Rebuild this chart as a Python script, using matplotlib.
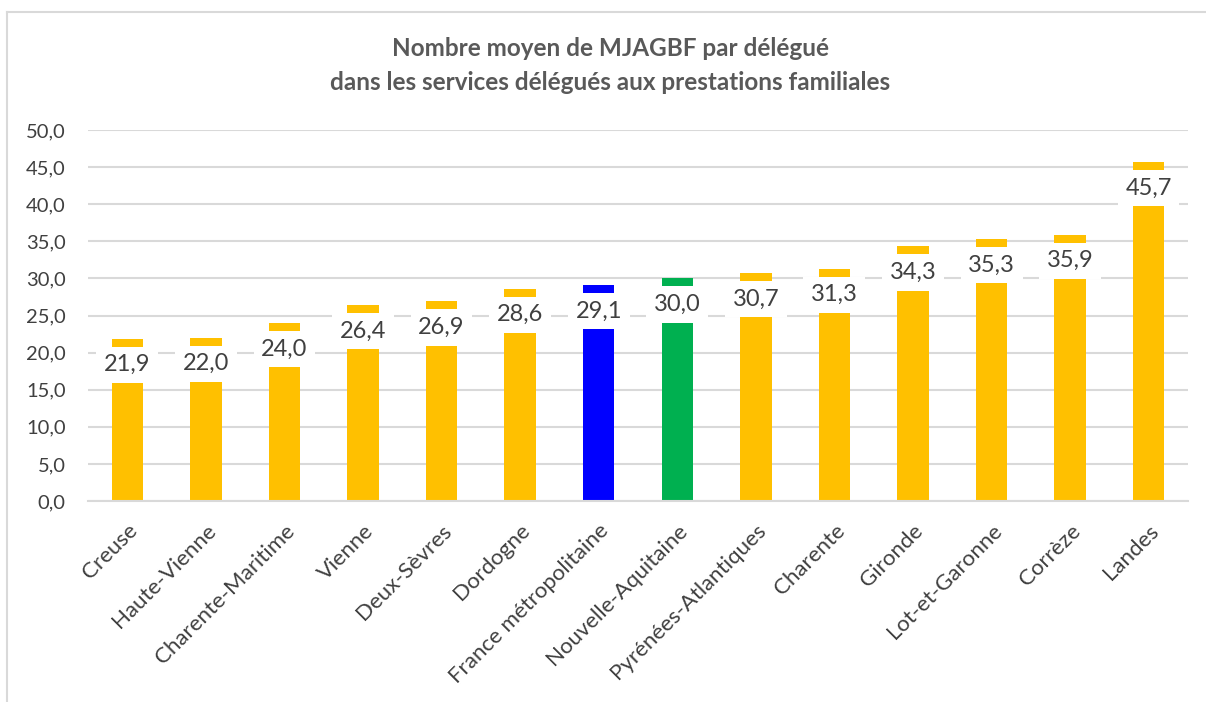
import matplotlib
matplotlib.use("Agg")
import matplotlib.pyplot as plt
from matplotlib.lines import Line2D

categories = ["Creuse", "Haute-Vienne", "Charente-Maritime", "Vienne", "Deux-Sèvres",
              "Dordogne", "France métropolitaine", "Nouvelle-Aquitaine",
              "Pyrénées-Atlantiques", "Charente", "Gironde", "Lot-et-Garonne",
              "Corrèze", "Landes"]
values = [21.9, 22.0, 24.0, 26.4, 26.9, 28.6, 29.1, 30.0, 30.7, 31.3, 34.3, 35.3, 35.9, 45.7]
colors = ["#FFC000"] * 6 + ["#0000FF", "#00B050"] + ["#FFC000"] * 6
yticks = [0, 5, 10, 15, 20, 25, 30, 35, 40, 45, 50]

plt.rcParams['font.family'] = ['Lato', 'DejaVu Sans']

fig = plt.figure(figsize=(12.06, 7.02), dpi=100)
ax = fig.add_axes([88/1206, 1-501/702, 1100/1206, 371/702])

x = list(range(len(categories)))
ax.bar(x, values, width=0.4, color=colors, zorder=2)

lab_fs = 17
pad = 0.32
off_px = 8 + pad * lab_fs / 0.72
for xi, v in zip(x, values):
    ax.annotate(f"{v:.1f}".replace(".", ","), xy=(xi, v), xytext=(0, -off_px * 0.72),
                textcoords="offset points", ha="center", va="top",
                fontsize=lab_fs, color="#404040", zorder=3,
                bbox=dict(boxstyle=f"square,pad={pad}", fc="white", ec="none"))

ax.set_xlim(-0.5, len(categories) - 0.5)
ax.set_ylim(0, 50)
ax.set_yticks(yticks)
ax.set_yticklabels([f"{t:.1f}".replace(".", ",") for t in yticks], fontsize=14.5, color="#404040")
ax.set_xticks(x)
ax.set_xticklabels(categories, rotation=45, ha="right", rotation_mode="anchor",
                   fontsize=16, color="#404040")
ax.tick_params(axis="both", length=0)
ax.tick_params(axis="y", pad=16)
ax.tick_params(axis="x", pad=14)
ax.yaxis.grid(True, color="#d9d9d9", linewidth=1.5, zorder=0)
ax.set_axisbelow(True)
for s in ["top", "right", "left"]:
    ax.spines[s].set_visible(False)
ax.spines["bottom"].set_color("#d9d9d9")
ax.spines["bottom"].set_linewidth(1.5)

fig.text(610/1206, 1-48/702, "Nombre moyen de MJAGBF par délégué", ha="center", va="center",
         fontsize=17.5, fontweight="bold", color="#595959")
fig.text(610/1206, 1-82/702, "dans les services délégués aux prestations familiales",
         ha="center", va="center", fontsize=17.5, fontweight="bold", color="#595959")

# chart border
fig.add_artist(Line2D([7/1206, 7/1206], [0, 1-12/702], color="#d9d9d9", linewidth=1.5,
                      transform=fig.transFigure))
fig.add_artist(Line2D([7/1206, 1], [1-12/702, 1-12/702], color="#d9d9d9", linewidth=1.5,
                      transform=fig.transFigure))

fig.savefig("out.png", dpi=100)
